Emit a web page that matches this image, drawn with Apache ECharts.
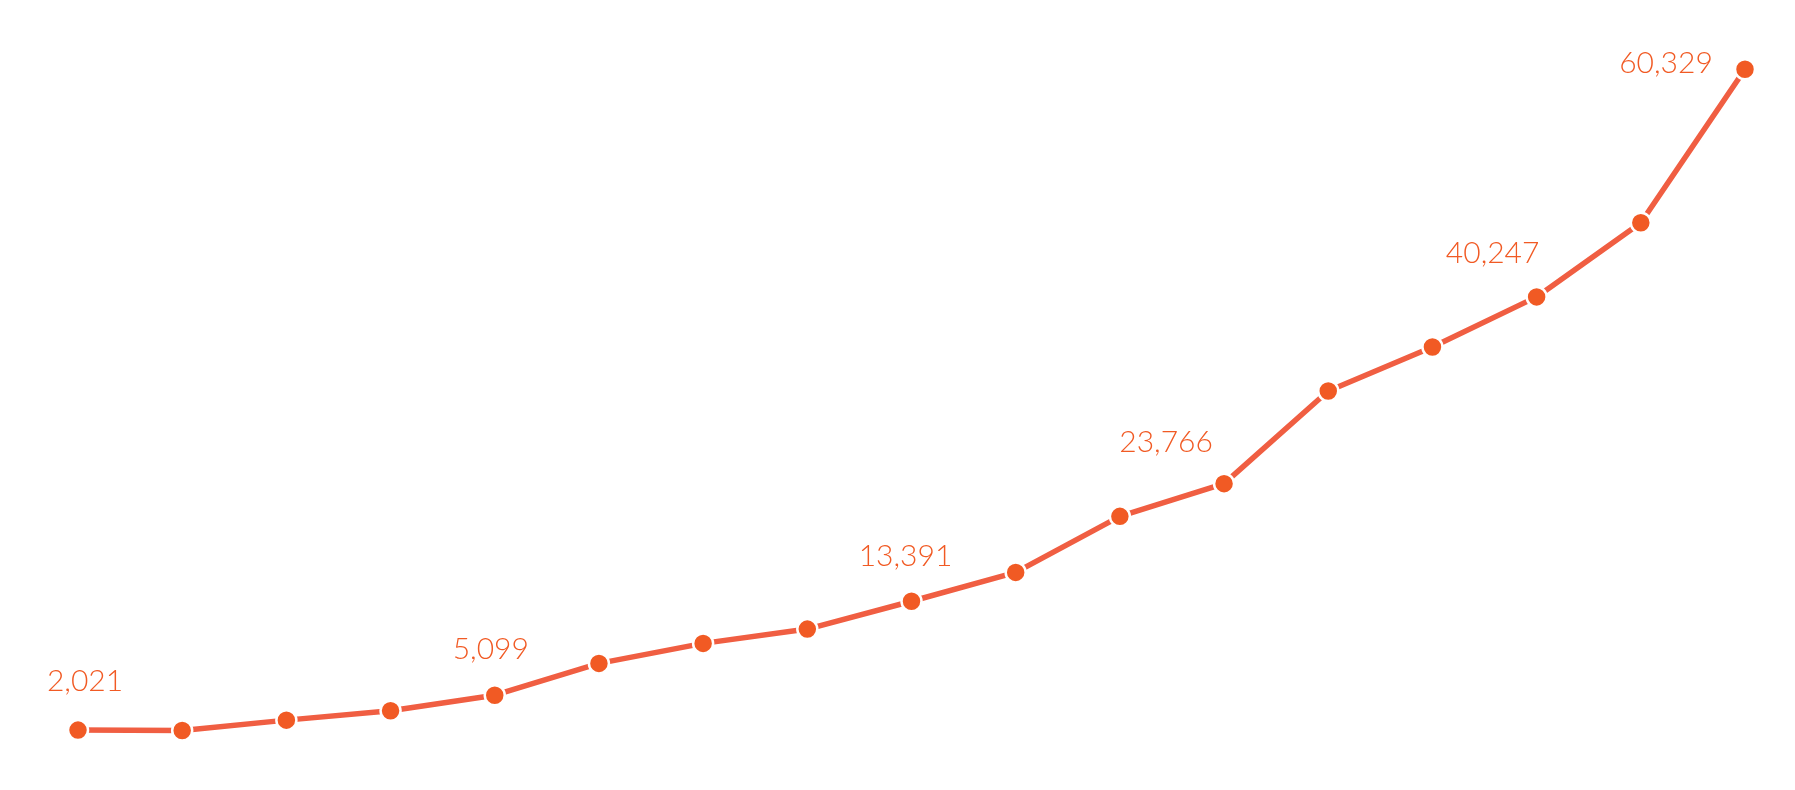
<!DOCTYPE html>
<html>
<head>
<meta charset="utf-8">
<script src="https://cdn.jsdelivr.net/npm/echarts@6/dist/echarts.min.js"></script>
<style>
  html, body { margin: 0; padding: 0; background: #fff; }
  #chart { width: 1795px; height: 790px; }
</style>
</head>
<body>
<div id="chart"></div>
<script>
// values
const categories = ['1', '2', '3', '4', '5', '6', '7', '8', '9', '10', '11', '12', '13', '14', '15', '16', '17']
const values = [2021, 1990, 2900, 3724, 5099, 7907, 9672, 10934, 13391, 15938, 20880, 23766, 31938, 35830, 40247, 46791, 60329]
const labelled = [0, 4, 8, 11, 14, 16]

// label nudges (px) relative to the default "top" spot
const labelNudge = {
  0: [7, -18],
  4: [-4, -15],
  8: [-6, -14],
  11: [-58, -10],
  14: [-44, -12],
  16: [-79, 25],
}

const chart = echarts.init(document.getElementById('chart'))

chart.setOption({
  animation: false,
  grid: { left: 78, right: 50, top: 0, bottom: 37 },
  xAxis: {
    type: 'category',
    data: categories,
    boundaryGap: false,
    show: false,
  },
  yAxis: {
    type: 'value',
    min: 0,
    max: 66445,
    show: false,
  },
  series: [
    {
      type: 'line',
      data: values.map((v, i) => {
        if (!labelled.includes(i)) return v
        return {
          value: v,
          label: {
            show: true,
            position: 'top',
            offset: labelNudge[i],
          },
        }
      }),
      symbol: 'circle',
      symbolSize: 20,
      showAllSymbol: true,
      lineStyle: { color: '#f05e42', width: 5.5 },
      itemStyle: { color: '#f15a24', borderColor: '#fff', borderWidth: 2.5 },
      label: {
        show: false,
        color: '#f15a24',
        fontFamily: 'Lato',
        fontWeight: 300,
        fontSize: 30,
        formatter: (p) => p.value.toLocaleString('en-US'),
      },
      emphasis: { disabled: true },
      z: 2,
    },
  ],
})
</script>
</body>
</html>
